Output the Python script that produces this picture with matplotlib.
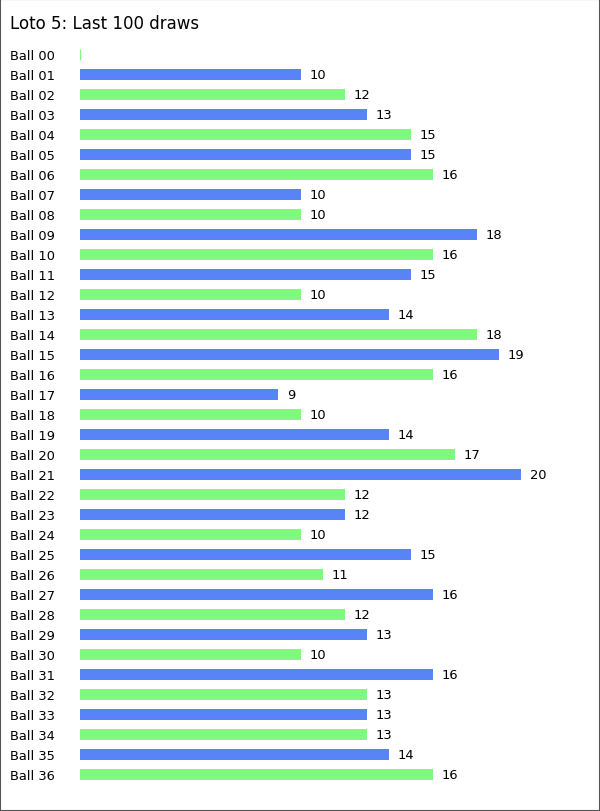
import matplotlib.pyplot as plt
from matplotlib.patches import Rectangle

balls = ['Ball %02d' % i for i in range(37)]
counts = [0, 10, 12, 13, 15, 15, 16, 10, 10, 18, 16, 15, 10, 14, 18, 19, 16, 9,
          10, 14, 17, 20, 12, 12, 10, 15, 11, 16, 12, 13, 10, 16, 13, 13, 13, 14, 16]

blue = '#5884f8'
green = '#80f880'
colors = [green if i % 2 == 0 else blue for i in range(len(balls))]

plt.rcParams['font.family'] = ['DejaVu Sans']
fig = plt.figure(figsize=(6, 8.12), dpi=100)
W, H = 600, 812

# axes placed in pixel terms: bars start at x=80, rows 20px apart
ax = fig.add_axes([80 / W, (H - 785.5) / H, 500 / W, 740 / H])
ypos = list(range(len(balls)))
lw = [0.8 if c == 0 else 0 for c in counts]
ax.barh(ypos, counts, height=0.55, color=colors, edgecolor=colors, linewidth=lw)
ax.set_xlim(0, 500 / 22.05)
ax.set_ylim(len(balls) - 0.5, -0.5)

for y, c in zip(ypos, counts):
    if c > 0:
        ax.annotate(str(c), (c, y), xytext=(6.5, 0), textcoords='offset points',
                    va='center', ha='left', fontsize=9.4, color='black')

ax.set_yticks(ypos)
ax.set_yticklabels(balls, fontsize=9.4, ha='left')
ax.tick_params(axis='y', length=0, pad=70 * 0.72)
ax.set_xticks([])
for s in ax.spines.values():
    s.set_visible(False)

fig.text(10 / W, 1 - 24 / H, 'Loto 5: Last 100 draws', fontsize=12, va='center', ha='left')
fig.patches.append(Rectangle((0, 0), 1, 1, transform=fig.transFigure, fill=False,
                             edgecolor='#555555', linewidth=1.5))

fig.savefig('out.png', dpi=100)
